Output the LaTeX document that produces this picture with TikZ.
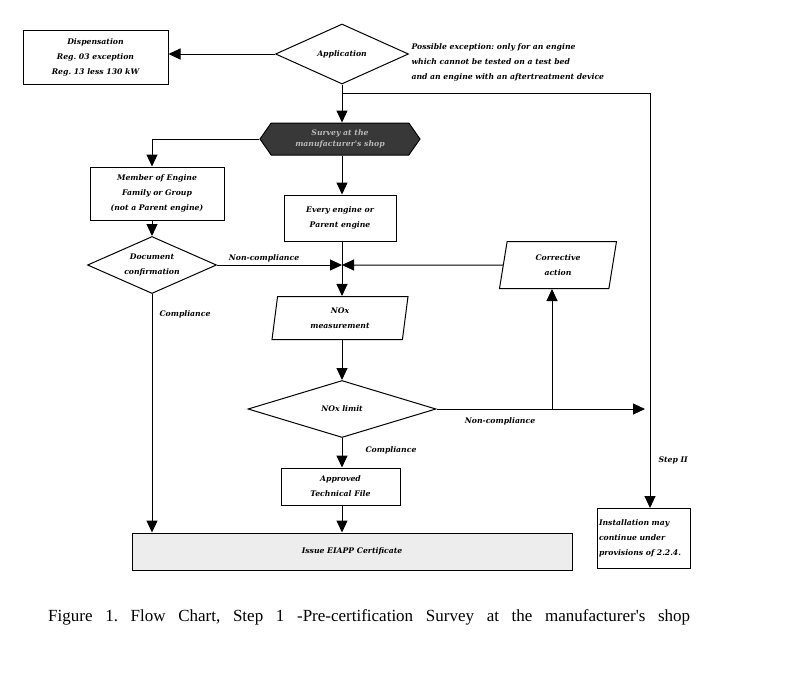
\documentclass[tikz,border=0pt]{standalone}
\usepackage{fontspec}
\setmainfont{Liberation Serif}
\newfontfamily\lblfont{DejaVu Serif}
\usetikzlibrary{arrows.meta,shapes.geometric,shapes.symbols}
\begin{document}
\frenchspacing
\begin{tikzpicture}[x=1pt,y=-1pt,
 lbl/.style={font=\lblfont\bfseries\itshape\fontsize{7.7}{15}\selectfont},
 box/.style={draw,line width=1pt,lbl,align=center,inner sep=0pt},
 dia/.style={draw,diamond,line width=1pt,lbl,align=center,inner sep=0pt,aspect=2.2},
 para/.style={draw,trapezium,trapezium left angle=70,trapezium right angle=110,trapezium stretches body,line width=1pt,lbl,align=center,inner sep=0pt},
 arr/.style={line width=1pt,-{Triangle[length=12pt,width=11pt]}},
 ln/.style={line width=1pt},
]
\useasboundingbox[fill=white] (0,0) rectangle (794,672);

% nodes
\node[box,minimum width=145,minimum height=54] (disp) at (95.5,57) {Dispensation\\Reg. 03 exception\\Reg. 13 less 130 kW};
\node[dia,minimum width=133,minimum height=60] (app) at (342,54) {Application};
\node[lbl,anchor=west,align=left] (exc) at (408,62) {Possible exception: only for an engine\\which cannot be tested on a test bed\\and an engine with an aftertreatment device};
\node[draw,signal,signal to=west and east,signal pointer angle=110,fill=black!78,line width=1pt,minimum width=160,minimum height=32,inner sep=0pt,lbl,text=gray!55,align=center] (hex) at (340,139) {Survey at the\\[-4pt]manufacturer's shop};
\node[box,minimum width=134,minimum height=53] (member) at (157,193.5) {Member of Engine\\Family or Group\\(not a Parent engine)};
\node[box,minimum width=112,minimum height=46] (every) at (340,218) {Every engine or\\Parent engine};
\node[dia,minimum width=129,minimum height=57] (docc) at (152,265) {Document\\confirmation};
\coordinate (j) at (342,265);
\node[para,minimum width=117,minimum height=47] (corr) at (558,265) {Corrective\\action};
\node[para,trapezium left angle=75,trapezium right angle=105,minimum width=136,minimum height=43] (nox) at (340,318) {NOx\\measurement};
\node[dia,minimum width=188,minimum height=57] (noxl) at (342,409) {NOx limit};
\node[box,minimum width=119,minimum height=37] (appr) at (340.5,486.5) {Approved\\Technical File};
\node[box,fill=gray!14,minimum width=440,minimum height=37] (issue) at (352,551.5) {Issue EIAPP Certificate};
\node[box,minimum width=93,minimum height=60,align=left,text width=89,inner xsep=2pt] (inst) at (643.5,538) {Installation may\\continue under\\provisions of 2.2.4.};

\coordinate (split) at (342,93);
\coordinate (stepin) at (650,508);
\coordinate (ncend) at (645,409);
\coordinate (upt) at (552,409);

% labels
\node[lbl] (l1) at (264,258) {Non-compliance};
\node[lbl] (l2) at (185,314) {Compliance};
\node[lbl] (l3) at (500,421) {Non-compliance};
\node[lbl] (l4) at (391,450) {Compliance};
\node[lbl,anchor=west] (l5) at (655,460) {Step II};

% connectors
\draw[arr] (app.west) -- (app.west -| disp.east);
\draw[arr] (app.south) -- (hex.north -| app.south);
\draw[arr] (split) -| (stepin);
\draw[arr] (hex.west) -| (member.north -| docc.north);
\draw[arr] (hex.south -| app.south) -- (every.north -| app.south);
\draw[arr] (member.south -| docc.north) -- (docc.north);
\draw[ln] (every.south -| j) -- (j);
\draw[arr] (docc.east) -- (j);
\draw[arr] (corr.west) -- (j);
\draw[arr] (j) -- (nox.north -| j);
\draw[arr] (nox.south -| j) -- (noxl.north);
\draw[arr] (noxl.east) -- (ncend);
\draw[arr] (upt) -- (upt |- corr.south);
\draw[arr] (noxl.south) -- (appr.north -| noxl.south);
\draw[arr] (appr.south -| noxl.south) -- (issue.north -| noxl.south);
\draw[arr] (docc.south) -- (docc.south |- issue.north);

% caption
\node[anchor=west,font=\fontsize{17}{20}\selectfont,inner sep=0pt] (cap) at (48,617) {\makebox[642pt][s]{Figure 1. Flow Chart, Step 1 -Pre-certification Survey at the manufacturer\textquotesingle s shop}};
\end{tikzpicture}
\end{document}
